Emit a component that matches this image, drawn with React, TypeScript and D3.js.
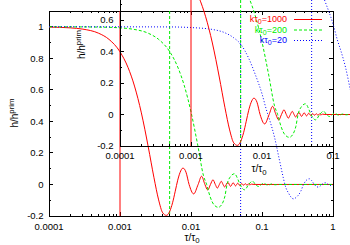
import React, { useEffect, useRef } from "react";
import * as d3 from "d3";

// h/h^prim against tau/tau0 (one array per k*tau0)
const mode1000 = [
  [0.0001, 0.998], [0.0002, 0.993], [0.0003, 0.985], [0.0005, 0.959],
  [0.0007, 0.92], [0.001, 0.841], [0.0013, 0.741], [0.0016, 0.624],
  [0.002, 0.454], [0.0025, 0.238], [0.003, 0.046], [0.0035, -0.098],
  [0.004, -0.18], [0.0045, -0.196], [0.005, -0.172], [0.0055, -0.116],
  [0.006, -0.043], [0.0065, 0.027], [0.007, 0.075], [0.0077, 0.104],
  [0.0085, 0.078], [0.0094, 0.0], [0.0109, -0.06], [0.0126, 0.0],
  [0.0141, 0.052], [0.0157, 0.0], [0.0172, -0.035], [0.0188, 0.0],
  [0.0204, 0.03], [0.022, 0.0], [0.0235, -0.023], [0.0251, 0.0],
  [0.0267, 0.02], [0.0283, 0.0], [0.0298, -0.016], [0.033, 0.014],
  [0.0361, -0.012], [0.0392, 0.011], [0.0424, -0.009], [0.0455, 0.008],
  [0.0487, -0.007], [0.0518, 0.006], [0.055, -0.005], [0.0581, 0.005],
  [0.0612, -0.004], [0.0644, 0.003], [0.0675, -0.003], [0.0707, 0.002],
  [0.08, 0.0], [1, 0.0],
];

const mode200 = [
  [0.0001, 1.0], [0.0005, 0.998], [0.001, 0.993], [0.0015, 0.985],
  [0.0025, 0.959], [0.0035, 0.92], [0.005, 0.843], [0.0065, 0.745],
  [0.008, 0.63], [0.01, 0.46], [0.0125, 0.245], [0.015, 0.055],
  [0.0166, 0.0], [0.0185, -0.075], [0.021, -0.128], [0.0243, -0.145],
  [0.027, -0.128], [0.03, -0.075], [0.0322, 0.0], [0.036, 0.05],
  [0.041, 0.068], [0.046, 0.03], [0.049, 0.0], [0.057, -0.034],
  [0.065, 0.0], [0.0735, 0.021], [0.081, 0.0], [0.0895, -0.013],
  [0.105, 0.008], [0.121, -0.005], [0.137, 0.003], [0.153, -0.002],
  [0.17, 0.0], [1, 0.0],
];

const mode20 = [
  [0.0001, 1.0], [0.005, 0.999], [0.01, 0.995], [0.02, 0.983],
  [0.03, 0.962], [0.04, 0.93], [0.05, 0.89], [0.065, 0.8],
  [0.08, 0.7], [0.1, 0.575], [0.115, 0.475], [0.13, 0.4],
  [0.15, 0.3], [0.175, 0.16], [0.2, 0.04], [0.21, 0.0],
  [0.24, -0.06], [0.276, -0.091], [0.31, -0.078], [0.35, -0.045],
  [0.385, 0.0], [0.42, 0.026], [0.465, 0.036], [0.5, 0.025],
  [0.545, 0.0], [0.621, -0.017], [0.7, 0.0], [0.771, 0.011],
  [0.86, 0.0], [0.935, -0.007], [1, -0.003],
];

const kTau0 = ["1000", "200", "20"];
const crossing = [0.001, 0.005, 0.05]; // tau/tau0 where k tau = 1
const colors = ["#ff0000", "#00ee00", "#0000ff"];
const dashes = ["none", "3,2", "1,2"];

const xTicksMain = [0.0001, 0.001, 0.01, 0.1, 1];
const yTicksMain = [-0.2, 0, 0.2, 0.4, 0.6, 0.8, 1];
const xTicksInset = [0.0001, 0.001, 0.01, 0.1];
const yTicksInset = [-0.2, 0, 0.2, 0.4, 0.6];

const font = "Liberation Sans, Arial, Helvetica, sans-serif";

export default function App() {
  const ref = useRef<SVGSVGElement>(null);

  useEffect(() => {
    const svg = d3.select(ref.current);
    svg.selectAll("*").remove();

    const x = d3.scaleLog().domain([1e-4, 1]).range([49, 333]);
    const y = d3.scaleLinear().domain([-0.2, 1.1]).range([216, 11]);
    const xi = d3.scaleLog().domain([1e-4, 0.1]).range([120, 333]);
    const yi = d3.scaleLinear().domain([-0.2, 0.6]).range([146, 20]);

    const defs = svg.append("defs");
    defs.append("clipPath").attr("id", "clipMain").append("rect")
      .attr("x", 49).attr("y", 11).attr("width", 284).attr("height", 205);
    defs.append("clipPath").attr("id", "clipInset").append("rect")
      .attr("x", 120).attr("y", 0).attr("width", 230).attr("height", 146);

    const minorLog = (lo, hi) => {
      const out = [];
      for (let d = lo; d < hi * 0.999; d *= 10)
        for (let k = 2; k < 10; k++) out.push(d * k);
      return out;
    };
    const minorLin = (vals) => vals.slice(0, -1).map((v) => v + 0.1);

    const seg = (g, x1, y1, x2, y2) =>
      g.append("line")
        .attr("x1", x1).attr("y1", y1).attr("x2", x2).attr("y2", y2)
        .attr("stroke", "#000").attr("stroke-width", 1)
        .attr("shape-rendering", "crispEdges");

    const label = (g, px, py, parts, anchor = "middle", size = 9.5, fill = "#000", subDy = 2.5) => {
      const t = g.append("text")
        .attr("x", px).attr("y", py)
        .attr("text-anchor", anchor)
        .attr("font-family", font)
        .attr("font-size", size)
        .attr("fill", fill);
      let shift = 0;
      parts.forEach(([s, kind]) => {
        const want = kind === "sub" ? subDy : kind === "sup" ? -4 : 0;
        t.append("tspan")
          .attr("dy", want - shift)
          .attr("font-size", kind === "n" ? size : size * 0.78)
          .text(s);
        shift = want;
      });
      return t;
    };

    // ---- main plot frame and ticks
    const main = svg.append("g");
    main.append("rect")
      .attr("x", 49).attr("y", 11).attr("width", 284).attr("height", 205)
      .attr("fill", "none").attr("stroke", "#000")
      .attr("shape-rendering", "crispEdges");

    xTicksMain.forEach((v) => {
      seg(main, x(v), 216, x(v), 212);
      seg(main, x(v), 11, x(v), 15);
      main.append("text")
        .attr("x", x(v)).attr("y", 229.5)
        .attr("text-anchor", "middle")
        .attr("font-family", font).attr("font-size", 9.5)
        .text(String(v));
    });
    minorLog(1e-4, 1).forEach((v) => {
      seg(main, x(v), 216, x(v), 214);
      seg(main, x(v), 11, x(v), 13);
    });
    yTicksMain.forEach((v) => {
      seg(main, 49, y(v), 53, y(v));
      seg(main, 333, y(v), 329, y(v));
      main.append("text")
        .attr("x", 43.5).attr("y", y(v))
        .attr("dy", "0.34em")
        .attr("text-anchor", "end")
        .attr("font-family", font).attr("font-size", 9.5)
        .text(String(v));
    });
    minorLin(yTicksMain).forEach((v) => {
      seg(main, 49, y(v), 51, y(v));
      seg(main, 333, y(v), 331, y(v));
    });

    // vertical markers at k tau = 1
    crossing.forEach((c, i) => {
      main.append("line")
        .attr("x1", x(c)).attr("x2", x(c)).attr("y1", 11).attr("y2", 216)
        .attr("stroke", colors[i]).attr("stroke-width", 1)
        .attr("stroke-dasharray", dashes[i]);
    });

    const curves = [mode1000, mode200, mode20];
    const lineMain = d3.line()
      .x((d) => x(d[0])).y((d) => y(d[1]))
      .curve(d3.curveMonotoneX);
    const gm = main.append("g").attr("clip-path", "url(#clipMain)");
    curves.forEach((data, i) => {
      gm.append("path").datum(data)
        .attr("fill", "none").attr("stroke", colors[i])
        .attr("stroke-width", 1).attr("stroke-dasharray", dashes[i])
        .attr("d", lineMain);
    });

    label(svg, 0, 0, [["h/h", "n"], ["prim", "sup"]], "middle", 10)
      .attr("transform", "translate(17.5,113) rotate(-90)");
    label(svg, 192, 240.5, [["τ/τ", "n"], ["0", "sub"]], "middle", 10);

    // ---- inset
    const inset = svg.append("g");
    crossing.forEach((c, i) => {
      inset.append("line")
        .attr("x1", xi(c)).attr("x2", xi(c)).attr("y1", 0).attr("y2", 146)
        .attr("stroke", colors[i]).attr("stroke-width", 1)
        .attr("stroke-dasharray", dashes[i]);
    });
    seg(inset, 120, 0, 120, 146);
    seg(inset, 120, 146, 333, 146);
    xTicksInset.forEach((v) => {
      seg(inset, xi(v), 146, xi(v), 142);
      inset.append("text")
        .attr("x", xi(v)).attr("y", 158.5)
        .attr("text-anchor", "middle")
        .attr("font-family", font).attr("font-size", 9.5)
        .text(String(v));
    });
    minorLog(1e-4, 0.1).forEach((v) => seg(inset, xi(v), 146, xi(v), 144));
    yTicksInset.forEach((v) => {
      seg(inset, 120, yi(v), 124, yi(v));
      inset.append("text")
        .attr("x", 113.5).attr("y", yi(v))
        .attr("dy", "0.34em")
        .attr("text-anchor", "end")
        .attr("font-family", font).attr("font-size", 9.5)
        .text(String(v));
    });
    minorLin([...yTicksInset, 0.8]).forEach((v) => seg(inset, 120, yi(v), 122, yi(v)));

    const lineInset = d3.line()
      .x((d) => xi(d[0])).y((d) => yi(d[1]))
      .curve(d3.curveMonotoneX);
    const gi = inset.append("g").attr("clip-path", "url(#clipInset)");
    curves.forEach((data, i) => {
      gi.append("path").datum(data)
        .attr("fill", "none").attr("stroke", colors[i])
        .attr("stroke-width", 1).attr("stroke-dasharray", dashes[i])
        .attr("d", lineInset);
    });

    label(svg, 0, 0, [["h/h", "n"], ["prim", "sup"]], "middle", 10)
      .attr("transform", "translate(85,44.5) rotate(-90)");
    label(svg, 259, 172, [["τ/τ", "n"], ["0", "sub"]], "middle", 10);

    // ---- legend
    kTau0.forEach((k, i) => {
      const ry = 19.5 + i * 10.5;
      label(svg, 287, ry + 2.8, [["kτ", "n"], ["0", "sub"], ["=" + k, "n"]], "end", 9, colors[i], 2);
      svg.append("line")
        .attr("x1", 294).attr("x2", 322).attr("y1", ry).attr("y2", ry)
        .attr("stroke", colors[i]).attr("stroke-width", 1)
        .attr("stroke-dasharray", dashes[i]);
    });
  }, []);

  return (
    <svg
      ref={ref}
      width={350}
      height={245}
      style={{ position: "absolute", left: 0, top: 0, background: "#fff" }}
    />
  );
}
